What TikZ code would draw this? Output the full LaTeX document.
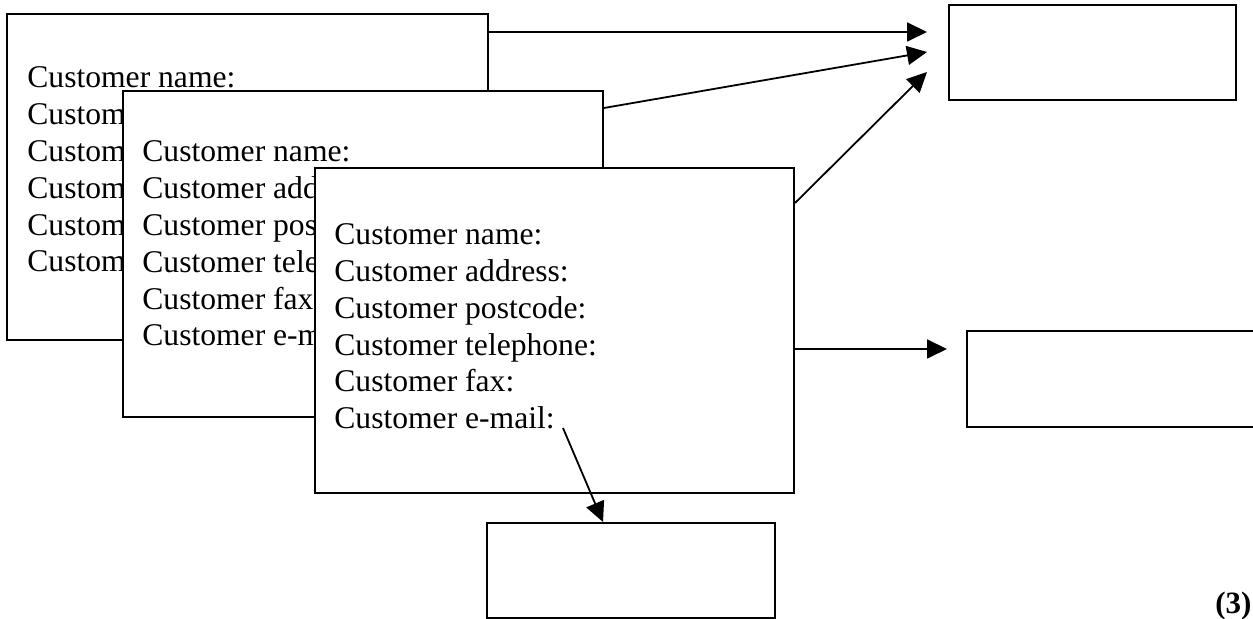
\documentclass[tikz,border=0pt]{standalone}
\usepackage{fontspec}
\setmainfont{Liberation Serif}
\usetikzlibrary{arrows.meta}
\tikzset{
  form/.style={draw, fill=white, line width=1pt, inner sep=0pt, anchor=north west},
  slot/.style={draw, line width=1pt, inner sep=0pt, anchor=north west},
  field/.style={anchor=base west, inner sep=0pt, font=\fontsize{15.8}{18}\selectfont},
  link/.style={-{Triangle[length=10pt,width=9.5pt]}, line width=0.9pt}
}
\begin{document}
\begin{tikzpicture}[x=0.5pt,y=-0.5pt]
\useasboundingbox (0,0) rectangle (1253,619);
\node[form, minimum width=240.5pt, minimum height=163pt] (formA) at (6,13) {};
\foreach \f [count=\i] in {name, address, postcode, telephone, fax, e-mail}
  \node[field] (fieldA\i) at (27,{88+36.8*(\i-1)}) {Customer \f:};
\node[form, minimum width=240pt, minimum height=163pt] (formB) at (122,90) {};
\foreach \f [count=\i] in {name, address, postcode, telephone, fax, e-mail}
  \node[field] (fieldB\i) at (142,{162+36.8*(\i-1)}) {Customer \f:};
\node[form, minimum width=239.5pt, minimum height=162.5pt] (formC) at (314,167) {};
\foreach \f [count=\i] in {name, address, postcode, telephone, fax, e-mail}
  \node[field] (fieldC\i) at (334,{245+36.7*(\i-1)}) {Customer \f:};
\node[slot, minimum width=143.5pt, minimum height=47.5pt] (outTop) at (948,4) {};
\node[slot, minimum width=147pt, minimum height=48pt] (outRight) at (966,330) {};
\node[slot, minimum width=144pt, minimum height=47.5pt] (outBottom) at (486,522) {};
\coordinate (tip1) at (927,32);
\coordinate (tip2) at (927,52);
\coordinate (tip3) at (927,72);
\coordinate (tip4) at (947,349);
\coordinate (mailC) at (563,428);
\draw[link] ([yshift=-9.5pt]formA.north east) -- (tip1);
\draw[link] ([yshift=-9pt]formB.north east) -- (tip2);
\draw[link] ([yshift=-18pt]formC.north east) -- (tip3);
\draw[link] ([yshift=-91pt]formC.north east) -- (tip4);
\draw[link] (mailC) -- ([xshift=-14pt]outBottom.north);
\node[anchor=base west, inner sep=0pt, font=\bfseries\fontsize{15.5}{18}\selectfont] (part3) at (1215,614) {(3)};
\end{tikzpicture}
\end{document}
